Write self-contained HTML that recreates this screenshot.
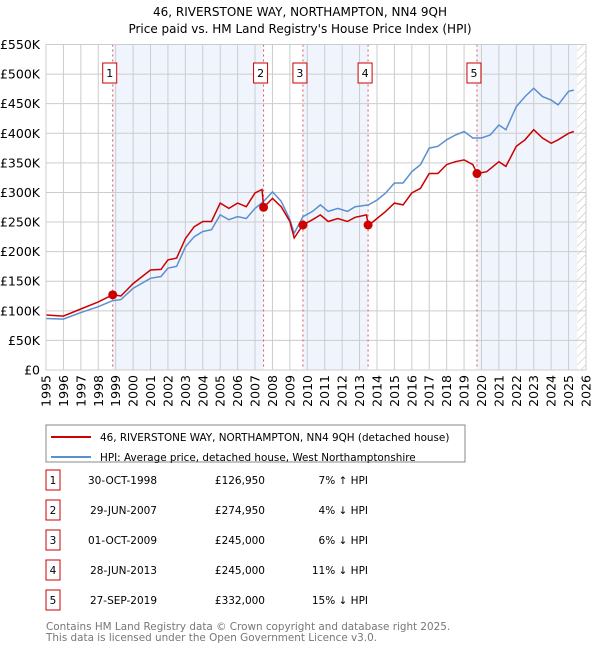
<!DOCTYPE html>
<html><head><meta charset="utf-8"><style>
body{margin:0;background:#fff;font-family:"Liberation Sans","DejaVu Sans",sans-serif;}
svg text{font-family:"DejaVu Sans","Liberation Sans",sans-serif;}
</style></head><body>
<svg id="c" width="600" height="650" viewBox="0 0 600 650" xmlns="http://www.w3.org/2000/svg">
<text x="300" y="16" text-anchor="middle" font-size="12">46, RIVERSTONE WAY, NORTHAMPTON, NN4 9QH</text>
<text x="300" y="33" text-anchor="middle" font-size="12">Price paid vs. HM Land Registry's House Price Index (HPI)</text>
<defs><pattern id="hatch" width="6" height="6" patternUnits="userSpaceOnUse" patternTransform="rotate(45)"><line x1="0" y1="0" x2="0" y2="6" stroke="#bbb" stroke-width="1"/></pattern></defs>
<g id="bg"></g><g id="grid"></g><g id="series"></g><g id="axes"></g>
<rect x="46" y="425" width="419" height="37" fill="#fff" stroke="#888"/>
<line x1="51" y1="437" x2="91" y2="437" stroke="#cc0000" stroke-width="2"/>
<text x="100" y="441" font-size="10.4">46, RIVERSTONE WAY, NORTHAMPTON, NN4 9QH (detached house)</text>
<line x1="51" y1="457" x2="91" y2="457" stroke="#5b8fd0" stroke-width="2"/>
<text x="100" y="461" font-size="10.4">HPI: Average price, detached house, West Northamptonshire</text>
<g id="table"></g>
<text x="46" y="630" font-size="10.4" fill="#777">Contains HM Land Registry data © Crown copyright and database right 2025.</text>
<text x="46" y="641" font-size="10.4" fill="#777">This data is licensed under the Open Government Licence v3.0.</text>
</svg>
<script>
const hpiYears=[1995,1996,1997,1998,1998.8,1999.3,2000,2001,2001.6,2002,2002.5,2003,2003.5,2004,2004.5,2005,2005.5,2006,2006.5,2007,2007.5,2008,2008.5,2009,2009.25,2009.75,2010.3,2010.75,2011.2,2011.75,2012.3,2012.75,2013.5,2014,2014.5,2015,2015.5,2016,2016.5,2017,2017.5,2018,2018.5,2019,2019.5,2020,2020.5,2021,2021.4,2022,2022.5,2023,2023.5,2024,2024.4,2025,2025.3];
const hpiValues=[87,86,97,107,117,119,138,155,158,172,175,208,225,234,237,262,254,259,256,273,285,301,285,254,231,259,268,279,268,273,268,276,279,287,299,316,316,335,347,375,378,389,397,403,392,392,397,414,406,445,462,476,462,456,448,471,473];
const propYears=[1995,1996,1997,1998,1998.83,1999.3,2000,2001,2001.6,2002,2002.5,2003,2003.5,2004,2004.5,2005,2005.5,2006,2006.5,2007,2007.4,2007.5,2008,2008.5,2009,2009.25,2009.75,2010.3,2010.75,2011.2,2011.75,2012.3,2012.75,2013.4,2013.5,2014,2014.5,2015,2015.5,2016,2016.5,2017,2017.5,2018,2018.5,2019,2019.5,2019.75,2020.3,2021,2021.4,2022,2022.5,2023,2023.5,2024,2024.4,2025,2025.3];
const propValues=[93,91,103,115,127,125,146,169,170,186,189,222,242,251,251,282,273,282,276,299,305,275,290,276,251,223,245,254,262,251,256,251,258,262,244,256,268,282,279,299,307,332,332,347,352,355,347,332,335,352,344,378,389,406,392,383,389,400,403];
const saleYears=[1998.83,2007.49,2009.75,2013.49,2019.74];
const salePrices=[126.95,274.95,245,245,332];
const saleLabels=["1","2","3","4","5"];
const saleDates=["30-OCT-1998","29-JUN-2007","01-OCT-2009","28-JUN-2013","27-SEP-2019"];
const salePriceText=["£126,950","£274,950","£245,000","£245,000","£332,000"];
const saleHpiText=["7% ↑ HPI","4% ↓ HPI","6% ↓ HPI","11% ↓ HPI","15% ↓ HPI"];
const yTicks=[0,50,100,150,200,250,300,350,400,450,500,550];
const yTickLabels=["£0","£50K","£100K","£150K","£200K","£250K","£300K","£350K","£400K","£450K","£500K","£550K"];
const xTicks=[1995,1996,1997,1998,1999,2000,2001,2002,2003,2004,2005,2006,2007,2008,2009,2010,2011,2012,2013,2014,2015,2016,2017,2018,2019,2020,2021,2022,2023,2024,2025,2026];

const NS="http://www.w3.org/2000/svg";
const L=46,R=586,T=44.5,B=370;
const xs=y=>L+(y-1995)/(2026-1995)*(R-L);
const ys=v=>B-v/550*(B-T);
function mk(p,tag,attrs){const e=document.createElementNS(NS,tag);for(const k in attrs)e.setAttribute(k,attrs[k]);document.getElementById(p).appendChild(e);return e;}
const shadeStarts=[saleYears[0],saleYears[2],saleYears[4]];
const shadeEnds=[saleYears[1],saleYears[3],2025.5];
for(let i=0;i<shadeStarts.length;i++){
 const e=mk('bg','rect',{x:xs(shadeStarts[i]),y:T,width:xs(shadeEnds[i])-xs(shadeStarts[i]),height:B-T,fill:'#f0f5fd'});
 
 
}
let h=mk('bg','rect',{x:xs(2025.5),y:T,width:R-xs(2025.5),height:B-T,fill:'url(#hatch)'});


yTicks.forEach((v,i)=>{
 mk('grid','line',{x1:L,x2:R,y1:ys(v),y2:ys(v),stroke:'#ccc','stroke-width':1});
 const t=mk('axes','text',{x:L-6,y:ys(v)+4.5,'text-anchor':'end','font-size':12.5});
 t.textContent=yTickLabels[i];
 
 
});
xTicks.forEach(y=>{
 mk('grid','line',{x1:xs(y),x2:xs(y),y1:T,y2:B,stroke:'#ccc','stroke-width':1});
 const t=mk('axes','text',{x:0,y:0,'text-anchor':'end','font-size':12.5,transform:`translate(${xs(y)+4.5},${B+5}) rotate(-90)`});
 t.textContent=y;
 
 
});
mk('axes','rect',{x:L,y:T,width:R-L,height:B-T,fill:'none',stroke:'#ccc'});
saleYears.forEach(y=>{
 const l=mk('series','line',{x1:xs(y),x2:xs(y),y1:T,y2:B,stroke:'#e05050','stroke-width':1,'stroke-dasharray':'2,3'});
 
 
});
function path(xa,va){return xa.map((x,i)=>(i?'L':'M')+xs(x).toFixed(1)+','+ys(va[i]).toFixed(1)).join(' ');}
let p=mk('series','path',{d:path(hpiYears,hpiValues),fill:'none',stroke:'#5b8fd0','stroke-width':1.5});


p=mk('series','path',{d:path(propYears,propValues),fill:'none',stroke:'#cc0000','stroke-width':1.5});


saleYears.forEach((y,i)=>{
 const c=mk('series','circle',{cx:xs(y),cy:ys(salePrices[i]),r:4.5,fill:'#cc0000'});
 
 
 const bx=xs(y)-3-7;
 const r=mk('series','rect',{x:bx,y:63,width:14,height:20,fill:'#fff',stroke:'#cc0000'});
 
 
 const t=mk('series','text',{x:bx+7,y:77,'text-anchor':'middle','font-size':11});
 t.textContent=saleLabels[i];
 
 
});
saleLabels.forEach((s,i)=>{
 const y=483+i*30;
 const r=mk('table','rect',{x:46,y:y-13,width:14,height:20,fill:'#fff',stroke:'#cc0000'});
 
 
 let t=mk('table','text',{x:53,y:y+1,'text-anchor':'middle','font-size':10.5});t.textContent=s;
 
 
 t=mk('table','text',{x:157,y:y+1,'text-anchor':'end','font-size':10.5});t.textContent=saleDates[i];
 
 
 t=mk('table','text',{x:265,y:y+1,'text-anchor':'end','font-size':10.5});t.textContent=salePriceText[i];
 
 
 t=mk('table','text',{x:368,y:y+1,'text-anchor':'end','font-size':10.5});t.textContent=saleHpiText[i];
 
 
});
</script>
</body></html>
